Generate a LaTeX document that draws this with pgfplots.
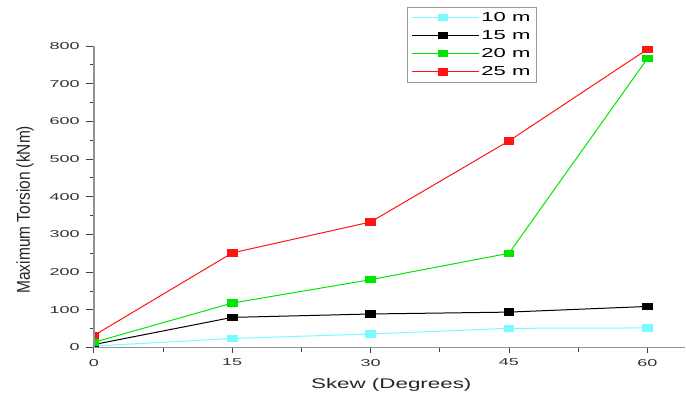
\documentclass[border=0pt]{standalone}
\usepackage{pgfplots}
\pgfplotsset{compat=1.18}
\usepackage{graphicx}
\usepackage{fontspec}
\setmainfont{Liberation Sans}
\definecolor{cy}{RGB}{120,250,255}
\definecolor{gr}{RGB}{0,230,0}
\definecolor{rd}{RGB}{255,20,20}
\begin{document}
\begin{tikzpicture}
\begin{axis}[
  name=ax,
  scale only axis,
  width=592pt, height=302pt,
  xmin=0, xmax=64.1, ymin=0, ymax=800,
  axis x line=bottom, axis y line=left,
  axis line style={-, draw=gray!85, line width=1.8pt},
  axis on top,
  clip marker paths=true,
  xtick={0,15,30,45,60},
  ytick={0,100,...,800},
  minor x tick num=1, minor y tick num=1,
  tick align=outside,
  tick style={black!75, line width=0.8pt},
  major tick length=8pt, minor tick length=4pt,
  xtick style={/pgfplots/major tick length=5pt,/pgfplots/minor tick length=4pt},
  /pgf/number format/assume math mode=true,
  tick label style={font=\fontsize{10}{12}\selectfont, xscale=1.8, text=black!80},
  xlabel={\scalebox{1.6}[1]{Skew (Degrees)}},
  ylabel={\scalebox{1}[1.2]{Maximum Torsion (kNm)}},
  xlabel style={font=\fontsize{14}{16}\selectfont, at={(axis description cs:0.503,-0.1225)}, anchor=center, text=black!85},
  ylabel style={font=\fontsize{15.5}{18}\selectfont, at={(axis description cs:-0.1166,0.457)}, anchor=center, text=black!85},
  every axis plot/.append style={line width=1pt, mark=square*, mark size=3.2pt, mark options={xscale=1.5, solid},
    legend image code/.code={\path (-5pt,0pt) -- (62pt,0pt);
      \draw[mark repeat=2,mark phase=2,##1] plot coordinates {(0pt,0pt) (26pt,0pt) (53pt,0pt)};}},
  legend style={at={(axis description cs:0.530,1.129)}, anchor=north west, draw=gray!80, line width=0.6pt,
    font=\fontsize{13}{15}\selectfont, row sep=3.6pt, inner xsep=4pt, inner ysep=3pt, legend cell align=left},
]
\addplot[color=cy] coordinates {(0,4)(15,24)(30,36)(45,51)(60,52)};
\addlegendentry{\scalebox{1.7}[1]{10 m}}
\addplot[color=black] coordinates {(0,8)(15,80)(30,89)(45,94)(60,109)};
\addlegendentry{\scalebox{1.7}[1]{15 m}}
\addplot[color=gr] coordinates {(0,14)(15,118)(30,180)(45,250)(60,766)};
\addlegendentry{\scalebox{1.7}[1]{20 m}}
\addplot[color=rd] coordinates {(0,32)(15,251)(30,333)(45,548)(60,791)};
\addlegendentry{\scalebox{1.7}[1]{25 m}}
\end{axis}
\path (ax.south west) ++(-94pt,-51pt) rectangle ++(686pt,399pt);
\end{tikzpicture}
\end{document}
